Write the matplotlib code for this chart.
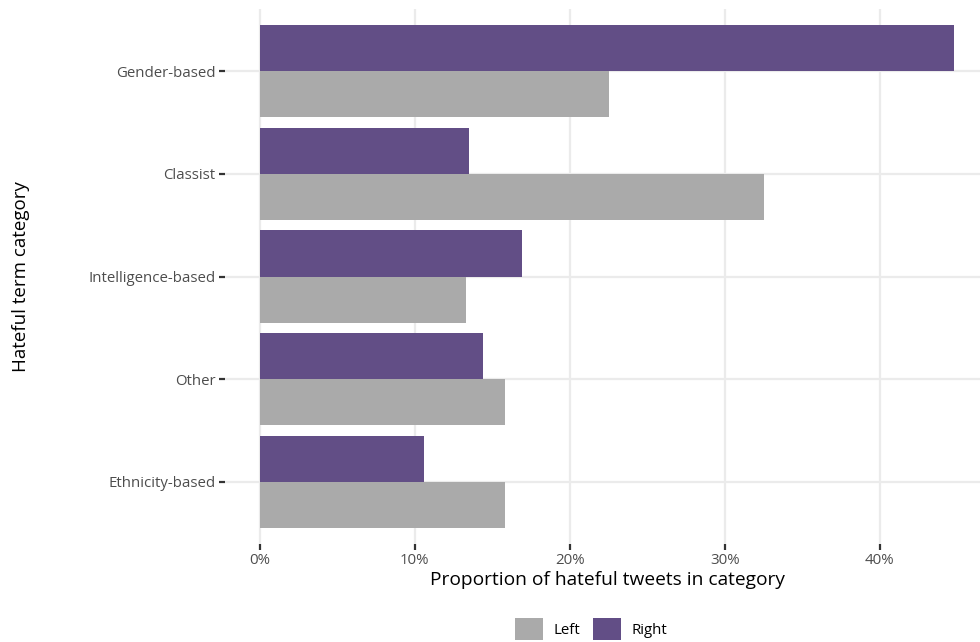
"""Hateful term categories by political side."""

import matplotlib
matplotlib.use("Agg")
import matplotlib.pyplot as plt
from matplotlib.patches import Patch
from matplotlib.ticker import FuncFormatter

categories = ["Gender-based", "Classist", "Intelligence-based", "Other", "Ethnicity-based"]
left_share = [22.5, 32.5, 13.3, 15.8, 15.8]
right_share = [44.8, 13.5, 16.9, 14.4, 10.6]
x_ticks = [0, 10, 20, 30, 40]

LEFT_COLOR = "#aaaaaa"
RIGHT_COLOR = "#624e86"
GRID = "#ebebeb"

plt.rcParams["font.family"] = ["Open Sans", "DejaVu Sans"]

W, H = 980, 642
fig = plt.figure(figsize=(W / 100, H / 100), dpi=100)
# panel in pixels: left 225, right 989 (cropped by figure edge), top 9.4, bottom 543.6
px_left, px_right, px_top, px_bottom = 225, 989, 9.4, 543.6
ax = fig.add_axes([px_left / W, 1 - px_bottom / H,
                   (px_right - px_left) / W, (px_bottom - px_top) / H])

pos = list(range(len(categories)))
bar_h = 0.45
ax.barh([p - bar_h / 2 for p in pos], right_share, height=bar_h, color=RIGHT_COLOR, zorder=2)
ax.barh([p + bar_h / 2 for p in pos], left_share, height=bar_h, color=LEFT_COLOR, zorder=2)

xmax = max(left_share + right_share)
ax.set_xlim(-0.05 * xmax, 1.05 * xmax)
ax.set_ylim(len(categories) - 0.4, -0.6)

ax.set_xticks(x_ticks)
ax.xaxis.set_major_formatter(FuncFormatter(lambda v, _: f"{v:.0f}%"))
ax.set_yticks(pos)
ax.set_yticklabels(categories)

ax.set_facecolor("white")
for s in ax.spines.values():
    s.set_visible(False)
ax.grid(True, color=GRID, linewidth=1.6, zorder=0)
ax.set_axisbelow(True)
ax.tick_params(axis="both", length=4, width=1.6, color="#333333",
               labelcolor="#4d4d4d", labelsize=10.8, pad=3)

ax.set_xlabel("Proportion of hateful tweets in category", fontsize=13.8, color="black")
ax.xaxis.set_label_coords(0.5, -0.052)
ax.set_ylabel("Hateful term category", fontsize=13.5, color="black")
ax.yaxis.set_label_coords(-0.255, 0.5)

handles = [Patch(facecolor=LEFT_COLOR, label="Left"), Patch(facecolor=RIGHT_COLOR, label="Right")]
fig.legend(handles=handles, ncol=2, loc="center", bbox_to_anchor=(591 / W, 1 - 629 / H),
           frameon=False, fontsize=10.8, handlelength=1.9, handleheight=1.9,
           handletextpad=0.7, columnspacing=0.8, borderaxespad=0)

fig.savefig("out.png", dpi=100)
